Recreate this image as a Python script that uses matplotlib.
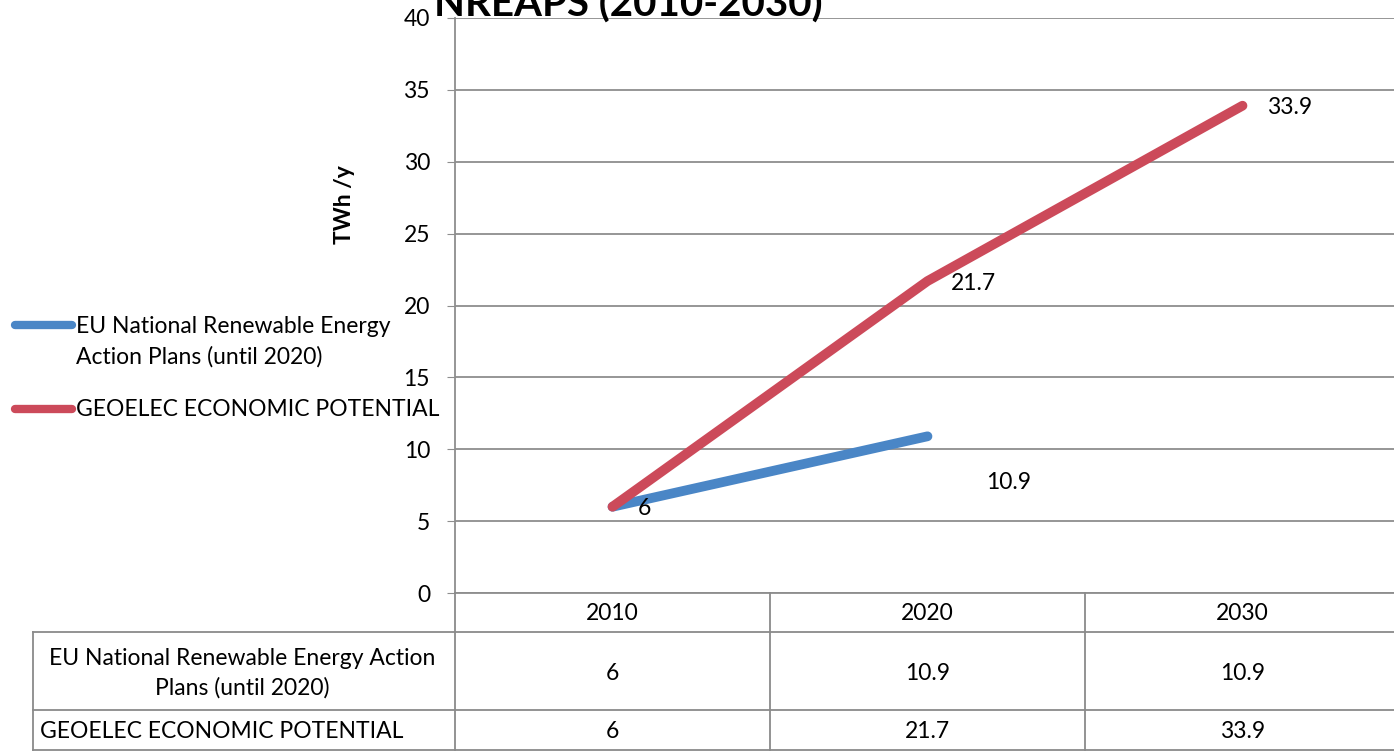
import matplotlib
matplotlib.use('Agg')
import matplotlib.pyplot as plt
import matplotlib.transforms as mtransforms

# data
years = ['2010', '2020', '2030']
nreap = [6, 10.9, 10.9]          # table values
nreap_line = [6, 10.9]           # line only drawn until 2020
geoelec = [6, 21.7, 33.9]
nreap_name = 'EU National Renewable Energy\nAction Plans (until 2020)'
nreap_table_name = 'EU National Renewable Energy Action\nPlans (until 2020)'
geoelec_name = 'GEOELEC ECONOMIC POTENTIAL'

plt.rcParams['font.family'] = ['Lato', 'DejaVu Sans']
FS = 16.5

W, H = 1394, 756
fig = plt.figure(figsize=(W / 100, H / 100), dpi=100)
fig.patch.set_facecolor('white')

def fx(px):
    return px / W

def fy(py):
    return 1 - py / H

ax = fig.add_axes([fx(455), fy(593), 945 / W, 575 / H])
ax.set_xlim(-0.5, 2.5)
ax.set_ylim(0, 40)

blue = '#4a86c6'
red = '#cc4a5a'
gray = '#8e8e8e'

ax.plot(range(len(nreap_line)), nreap_line, color=blue, lw=7, solid_capstyle='round')
ax.plot(range(len(geoelec)), geoelec, color=red, lw=7, solid_capstyle='round')

# data labels
ax.annotate(str(nreap_line[0]), (0, nreap_line[0]), xytext=(18, -1), textcoords='offset points',
            fontsize=FS, ha='left', va='center')
ax.annotate(str(nreap_line[1]), (1, nreap_line[1]), xytext=(42, -33), textcoords='offset points',
            fontsize=FS, ha='left', va='center')
ax.annotate(str(geoelec[1]), (1, geoelec[1]), xytext=(17, -2), textcoords='offset points',
            fontsize=FS, ha='left', va='center')
ax.annotate(str(geoelec[2]), (2, geoelec[2]), xytext=(18, -1), textcoords='offset points',
            fontsize=FS, ha='left', va='center')

ax.set_yticks(range(0, 41, 5))
ax.set_xticks([])
ax.tick_params(axis='y', length=6, color=gray, labelsize=FS, pad=12)
ax.yaxis.grid(True, color=gray, lw=1.3)
ax.set_axisbelow(True)
for s in ['top', 'right']:
    ax.spines[s].set_visible(False)
ax.spines['left'].set_color(gray)
ax.spines['bottom'].set_color(gray)
ax.spines['left'].set_linewidth(1.3)
ax.spines['bottom'].set_linewidth(1.3)

ax.set_ylabel('TWh /y', fontsize=FS, fontweight='bold')
ax.yaxis.set_label_coords((355 - 455) / 945, (593 - 205) / 575)

fig.text(fx(628), fy(17), 'NREAPS (2010-2030)', fontsize=29, fontweight='bold',
         ha='center', va='baseline')

# legend drawn at left
fig.add_artist(plt.Line2D([fx(15), fx(72)], [fy(325), fy(325)], color=blue, lw=6,
                          solid_capstyle='round'))
fig.text(fx(76), fy(316), nreap_name, fontsize=FS, ha='left', va='top', linespacing=1.5)
fig.add_artist(plt.Line2D([fx(15), fx(72)], [fy(409), fy(409)], color=red, lw=6,
                          solid_capstyle='round'))
fig.text(fx(76), fy(410), geoelec_name, fontsize=FS, ha='left', va='center')

# data table under the axis
tgray = '#8a8a8a'
rows_y = [593, 632, 710, 750]
left_px, mid_px = 33, 455

def hline(x0, x1, py):
    fig.add_artist(plt.Line2D([fx(x0), fx(x1)], [fy(py), fy(py)], color=tgray, lw=1.3))

def vline(px, y0, y1):
    fig.add_artist(plt.Line2D([fx(px), fx(px)], [fy(y0), fy(y1)], color=tgray, lw=1.3))

hline(left_px, W, rows_y[1])
hline(left_px, W, rows_y[2])
hline(left_px, W, rows_y[3])
vline(left_px, rows_y[1], rows_y[3])
vline(mid_px, rows_y[0], rows_y[3])
for i in range(1, len(years)):
    xp = mid_px + 315 * i
    vline(xp, rows_y[0], rows_y[3])

blend = mtransforms.blended_transform_factory(ax.transData, fig.transFigure)
for i, yr in enumerate(years):
    ax.text(i, fy(614), yr, fontsize=FS, ha='center', va='center', transform=blend, clip_on=False)
    ax.text(i, fy(673), str(nreap[i]), fontsize=FS, ha='center', va='center', transform=blend,
            clip_on=False)
    ax.text(i, fy(731), str(geoelec[i]), fontsize=FS, ha='center', va='center', transform=blend,
            clip_on=False)

fig.text(fx(242), fy(673), nreap_table_name, fontsize=FS, ha='center', va='center',
         linespacing=1.45)
fig.text(fx(40), fy(731), geoelec_name, fontsize=FS, ha='left', va='center')

fig.savefig('out.png', dpi=100)
